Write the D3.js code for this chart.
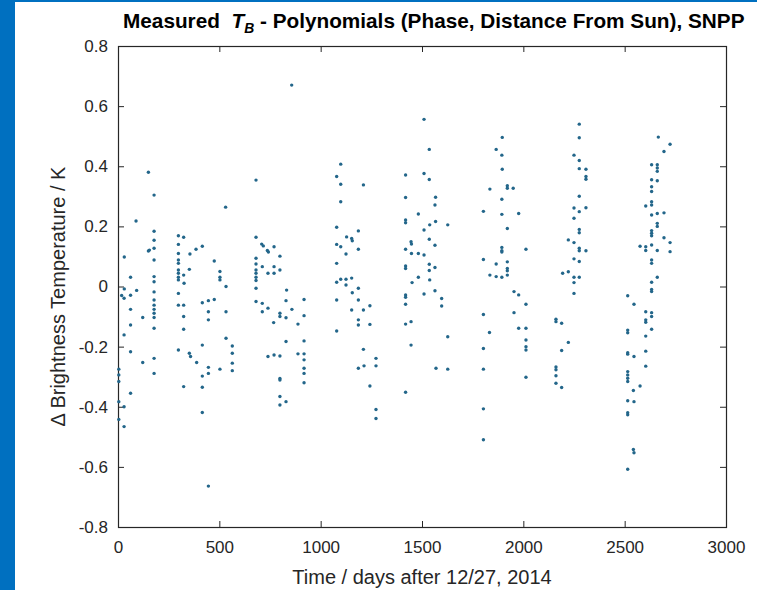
<!DOCTYPE html>
<html>
<head>
<meta charset="utf-8">
<script src="https://cdn.jsdelivr.net/npm/d3@7"></script>
<style>
  html, body { margin: 0; padding: 0; background: #fff; }
</style>
</head>
<body>
<svg id="drawing_region"></svg>
<script>
// tick labels
const xTicks = [0, 500, 1000, 1500, 2000, 2500, 3000];
const yTicks = [-0.8, -0.6, -0.4, -0.2, 0, 0.2, 0.4, 0.6, 0.8];

// [day, delta TB], one array per group of orbits
const groupA = [[31,0.098],[62,0.031],[178,0.184],[178,0.154],[150,0.118],[155,0.121],[178,0.127],[178,0.088],
  [178,0.033],[178,0.016],[178,-0.018],[31,-0.008],[92,-0.013],[18,-0.03],[150,0.38],[178,0.304],[89,0.218],
  [30,-0.039],[62,-0.029],[62,-0.076],[122,-0.103],[62,-0.128],[30,-0.161],[62,-0.217],[122,-0.253],
  [4,-0.275],[4,-0.294],[4,-0.316],[62,-0.355],[4,-0.383],[30,-0.4],[4,-0.442],[30,-0.466],
  [178,-0.045],[178,-0.062],[178,-0.076],[178,-0.089],[178,-0.103],[178,-0.139],[178,-0.239],[178,-0.289]];
const groupB = [[298,0.169],[324,0.164],[298,0.14],[298,0.11],[298,0.088],[298,0.077],[298,0.055],[298,0.044],
  [298,0.031],[298,0.022],[298,-0.023],[324,0.038],[326,0.011],[352,0.057],[355,0.108],[385,0.124],[416,0.134],
  [475,0.085],[503,0.05],[503,0.031],[503,0.022],[533,0.0],[531,0.264],
  [298,-0.062],[324,-0.062],[324,-0.1],[324,-0.142],[298,-0.211],[352,-0.222],[358,-0.233],[388,-0.253],
  [324,-0.333],[416,-0.195],[416,-0.054],[416,-0.298],[416,-0.335],[416,-0.419],[446,-0.047],[475,-0.043],
  [446,-0.084],[446,-0.111],[446,-0.269],[446,-0.289],[446,-0.664],[533,-0.084],[533,-0.172],[503,-0.275],
  [564,-0.198],[564,-0.222],[564,-0.255],[564,-0.28]];
const groupC = [[681,0.354],[681,0.164],[681,0.094],[681,0.075],[681,0.055],[681,0.044],[681,0.031],[681,0.02],
  [681,-0.006],[709,0.141],[717,0.135],[737,0.12],[742,0.115],[770,0.132],[712,0.066],[740,0.044],[770,0.066],
  [770,0.044],[799,0.101],[799,0.055],[832,-0.012],[857,0.67],
  [681,-0.05],[712,-0.056],[712,-0.084],[740,-0.072],[768,-0.12],[799,-0.089],[799,-0.1],[829,-0.104],
  [829,-0.047],[858,-0.076],[888,-0.125],[918,-0.043],[918,-0.097],[829,-0.183],[918,-0.181],[740,-0.233],
  [770,-0.228],[799,-0.231],[888,-0.224],[918,-0.224],[918,-0.244],[799,-0.306],[799,-0.311],[918,-0.272],
  [918,-0.289],[918,-0.32],[799,-0.366],[799,-0.394],[829,-0.383]];
const groupD = [[1099,0.407],[1079,0.366],[1099,0.34],[1211,0.338],[1099,0.282],[1079,0.197],[1079,0.14],
  [1099,0.132],[1128,0.165],[1153,0.16],[1156,0.152],[1186,0.185],[1125,0.108],[1186,0.124],[1079,0.077],
  [1079,0.014],[1099,0.024],[1125,0.024],[1153,0.028],[1125,0.005],[1156,-0.021],[1186,-0.006],
  [1079,-0.045],[1079,-0.148],[1186,-0.045],[1153,-0.078],[1211,-0.078],[1186,-0.111],[1186,-0.128],
  [1243,-0.064],[1243,-0.126],[1211,-0.209],[1186,-0.272],[1214,-0.264],[1273,-0.239],[1273,-0.264],
  [1243,-0.331],[1273,-0.409],[1273,-0.439]];
const groupE = [[1510,0.556],[1536,0.456],[1419,0.371],[1510,0.376],[1536,0.356],[1419,0.296],[1567,0.297],
  [1564,0.271],[1482,0.241],[1627,0.205],[1419,0.221],[1419,0.212],[1510,0.188],[1538,0.205],[1567,0.216],
  [1446,0.149],[1448,0.141],[1536,0.157],[1564,0.137],[1419,0.124],[1448,0.11],[1482,0.11],[1510,0.105],
  [1419,0.068],[1419,0.06],[1536,0.074],[1536,0.053],[1564,0.063],[1482,0.031],[1451,0.013],[1538,0.022],
  [1564,-0.014],[1419,-0.028],[1419,-0.036],[1510,-0.025],[1597,-0.04],
  [1419,-0.059],[1419,-0.125],[1446,-0.117],[1597,-0.065],[1446,-0.195],[1419,-0.352],[1569,-0.272],
  [1627,-0.275],[1627,-0.167]];
const groupF = [[1896,0.496],[1866,0.456],[1894,0.437],[1896,0.39],[1835,0.324],[1921,0.335],[1921,0.327],
  [1950,0.327],[1894,0.29],[1803,0.25],[1894,0.24],[1977,0.243],[1921,0.193],[1894,0.13],[1894,0.119],
  [1894,0.115],[1803,0.09],[1866,0.075],[1921,0.082],[1921,0.06],[1921,0.052],[1835,0.038],[1866,0.033],
  [1894,0.031],[1921,0.038],[1954,-0.017],[1977,-0.028],[2013,0.124],
  [1803,-0.093],[1833,-0.153],[1803,-0.206],[1803,-0.275],[1803,-0.407],[1803,-0.51],[1954,-0.087],
  [1977,-0.139],[2013,-0.059],[2013,-0.139],[2013,-0.178],[2013,-0.2],[2013,-0.211],[2013,-0.302]];
const groupG = [[2276,0.54],[2276,0.495],[2250,0.437],[2276,0.419],[2276,0.392],[2309,0.39],[2309,0.366],
  [2309,0.357],[2276,0.3],[2250,0.261],[2276,0.249],[2309,0.262],[2250,0.227],[2276,0.19],[2276,0.179],
  [2222,0.155],[2250,0.146],[2276,0.127],[2276,0.119],[2309,0.119],[2250,0.092],[2276,0.083],[2194,0.044],
  [2222,0.049],[2250,0.031],[2276,0.031],[2250,0.013],[2250,-0.023],
  [2161,-0.109],[2161,-0.117],[2189,-0.122],[2222,-0.186],[2189,-0.213],[2161,-0.268],[2161,-0.277],
  [2161,-0.297],[2161,-0.322],[2189,-0.336]];
const groupH = [[2666,0.497],[2724,0.473],[2694,0.449],[2633,0.405],[2661,0.405],[2661,0.394],[2661,0.383],
  [2633,0.355],[2661,0.352],[2633,0.332],[2633,0.316],[2604,0.268],[2633,0.282],[2633,0.271],[2633,0.238],
  [2661,0.243],[2694,0.245],[2661,0.21],[2661,0.2],[2633,0.186],[2633,0.177],[2633,0.169],[2694,0.162],
  [2724,0.146],[2576,0.134],[2604,0.132],[2604,0.12],[2633,0.138],[2661,0.12],[2724,0.116],[2633,0.088],
  [2633,0.077],[2661,0.031],[2633,0.014],[2633,-0.01],[2633,-0.017],[2515,-0.031],
  [2546,-0.059],[2604,-0.084],[2604,-0.111],[2604,-0.119],[2633,-0.087],[2633,-0.1],[2604,-0.165],
  [2604,-0.215],[2604,-0.265],[2633,-0.142],[2515,-0.145],[2515,-0.154],[2515,-0.22],[2515,-0.225],
  [2546,-0.233],[2515,-0.283],[2515,-0.294],[2515,-0.305],[2515,-0.316],[2576,-0.331],[2543,-0.346],
  [2546,-0.383],[2515,-0.38],[2515,-0.42],[2515,-0.427],[2543,-0.542],[2546,-0.553],[2515,-0.608]];

const FONT = '"Liberation Sans", Arial, sans-serif';

class ScatterPlot {
    constructor (config, data) {
        this.config = {
            parent: config.parent,
            width: config.width || 757,
            height: config.height || 590,
            margin: config.margin || {top:46, right:31, bottom:63, left:118},
            xlabel: config.xlabel || '',
            ylabel: config.ylabel || ''
        };
        this.data = data;
        this.init();
    }

    init() {
        let self = this;

        self.svg = d3.select(self.config.parent)
            .attr('width', self.config.width)
            .attr('height', self.config.height);

        // blue frame of the slide
        self.svg.append('rect')
            .attr('x', 0).attr('y', 0)
            .attr('width', 15).attr('height', self.config.height)
            .attr('fill', '#0070c0');
        self.svg.append('rect')
            .attr('x', 0).attr('y', 0)
            .attr('width', self.config.width).attr('height', 2)
            .attr('fill', '#0070c0');

        self.inner_width = self.config.width - self.config.margin.left - self.config.margin.right;
        self.inner_height = self.config.height - self.config.margin.top - self.config.margin.bottom;

        self.chart = self.svg.append('g')
            .attr('transform', `translate(${self.config.margin.left}, ${self.config.margin.top})`);

        self.xscale = d3.scaleLinear()
            .domain([0, 3000])
            .range([0, self.inner_width]);

        self.yscale = d3.scaleLinear()
            .domain([-0.8, 0.8])
            .range([self.inner_height, 0]);

        const tickLen = 6;
        const fmt = d => d === 0 ? '0' : d.toFixed(1);

        self.xaxis = d3.axisBottom(self.xscale).tickValues(xTicks).tickFormat(d3.format('d'))
            .tickSizeInner(-tickLen).tickSizeOuter(0).tickPadding(14);
        self.yaxis = d3.axisLeft(self.yscale).tickValues(yTicks).tickFormat(fmt)
            .tickSizeInner(-tickLen).tickSizeOuter(0).tickPadding(10);
        self.xaxis_top = d3.axisTop(self.xscale).tickValues(xTicks)
            .tickSizeInner(-tickLen).tickSizeOuter(0).tickFormat('');
        self.yaxis_right = d3.axisRight(self.yscale).tickValues(yTicks)
            .tickSizeInner(-tickLen).tickSizeOuter(0).tickFormat('');

        self.xaxis_group = self.chart.append('g')
            .attr('transform', `translate(0, ${self.inner_height})`);
        self.yaxis_group = self.chart.append('g');
        self.xaxis_top_group = self.chart.append('g');
        self.yaxis_right_group = self.chart.append('g')
            .attr('transform', `translate(${self.inner_width}, 0)`);

        // axes box
        self.chart.append('rect')
            .attr('x', 0.5).attr('y', 0.5)
            .attr('width', self.inner_width).attr('height', self.inner_height)
            .attr('fill', 'none')
            .attr('stroke', '#262626')
            .attr('stroke-width', 1.2);

        // title with italic T and subscript B, squeezed so it spans 123..745
        const title = self.svg.append('text')
            .attr('x', 0)
            .attr('y', 0)
            .style('font-family', FONT)
            .style('font-weight', 'bold')
            .style('font-size', '21px')
            .attr('fill', '#000');
        title.append('tspan').text('Measured\u00a0\u00a0');
        title.append('tspan').style('font-style', 'italic').text('T');
        title.append('tspan').style('font-style', 'italic').style('font-size', '14px')
            .attr('dy', 5).text('B');
        title.append('tspan').attr('dy', -5).text(' - Polynomials (Phase, Distance From Sun), SNPP');
        const w = title.node().getBBox().width;
        title.attr('transform', `translate(123, 28) scale(${622 / w}, 1)`);

        self.svg.append('text')
            .attr('x', self.config.margin.left + self.inner_width / 2)
            .attr('y', 584)
            .attr('text-anchor', 'middle')
            .style('font-family', FONT)
            .style('font-size', '20px')
            .attr('fill', '#262626')
            .text(self.config.xlabel);

        self.svg.append('text')
            .attr('transform', `translate(65, ${self.config.margin.top + self.inner_height / 2 + 10}) rotate(-90)`)
            .attr('text-anchor', 'middle')
            .style('font-family', FONT)
            .style('font-size', '20px')
            .attr('fill', '#262626')
            .text(self.config.ylabel);
    }

    update() {
        let self = this;
        self.render();
    }

    render() {
        let self = this;

        self.chart.selectAll('circle')
            .data(self.data)
            .join('circle')
            .attr('cx', d => self.xscale(d[0]))
            .attr('cy', d => self.yscale(d[1]))
            .attr('r', 1.7)
            .attr('fill', '#23668a');

        self.xaxis_group.call(self.xaxis);
        self.yaxis_group.call(self.yaxis);
        self.xaxis_top_group.call(self.xaxis_top);
        self.yaxis_right_group.call(self.yaxis_right);

        self.svg.selectAll('.domain').remove();
        self.svg.selectAll('.tick line')
            .attr('stroke', '#262626')
            .attr('stroke-width', 1);
        self.svg.selectAll('.tick text')
            .style('font-family', FONT)
            .style('font-size', '17px')
            .attr('fill', '#262626');
    }
}

const points = [].concat(groupA, groupB, groupC, groupD, groupE, groupF, groupG, groupH);

const scatter_plot = new ScatterPlot({
    parent: '#drawing_region',
    xlabel: 'Time / days after 12/27, 2014',
    ylabel: '\u0394 Brightness Temperature / K'
}, points);
scatter_plot.update();
</script>
</body>
</html>
